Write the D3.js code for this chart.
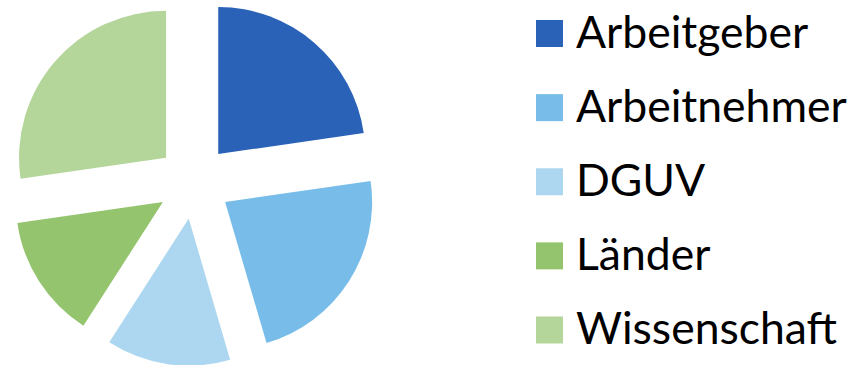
<!DOCTYPE html>
<html>
<head>
<meta charset="utf-8">
<script src="https://cdn.jsdelivr.net/npm/d3@7"></script>
<style>
  body { margin: 0; background: #fff; }
  svg text { font-family: Lato, "Open Sans", sans-serif; }
</style>
</head>
<body>
<script>
const categories = ["Arbeitgeber", "Arbeitnehmer", "DGUV", "Länder", "Wissenschaft"];
const values = [5, 5, 3, 3, 6];
const colors = ["#2962b7", "#78bde9", "#add7f0", "#94c46d", "#b5d69b"];

const width = 864, height = 365;
const cx = 194, cy = 182;
const radius = 147;
const explode = 37;

const svg = d3.select("body").append("svg")
    .attr("width", width)
    .attr("height", height);

const pie = d3.pie().sort(null).value(d => d)(values);
const arc = d3.arc().innerRadius(0).outerRadius(radius);

// exploded slices, each pushed out along its bisector
svg.append("g")
    .attr("transform", "translate(" + cx + "," + cy + ")")
    .selectAll("path")
    .data(pie)
    .enter().append("path")
    .attr("d", arc)
    .attr("fill", (d, i) => colors[i])
    .attr("transform", d => {
        let a = (d.startAngle + d.endAngle) / 2;
        return "translate(" + (explode * Math.sin(a)) + "," + (-explode * Math.cos(a)) + ")";
    });

// legend
const y = d3.scalePoint().domain(categories).range([33.5, 330]);
const legend = svg.append("g").selectAll("g")
    .data(categories)
    .enter().append("g")
    .attr("transform", d => "translate(536," + y(d) + ")");

legend.append("rect")
    .attr("x", 0).attr("y", -13.5)
    .attr("width", 27).attr("height", 27)
    .attr("fill", (d, i) => colors[i]);

legend.append("text")
    .attr("x", 40).attr("y", 14)
    .style("font-size", "44.5px")
    .attr("fill", "#000")
    .text(d => d);
</script>
</body>
</html>
